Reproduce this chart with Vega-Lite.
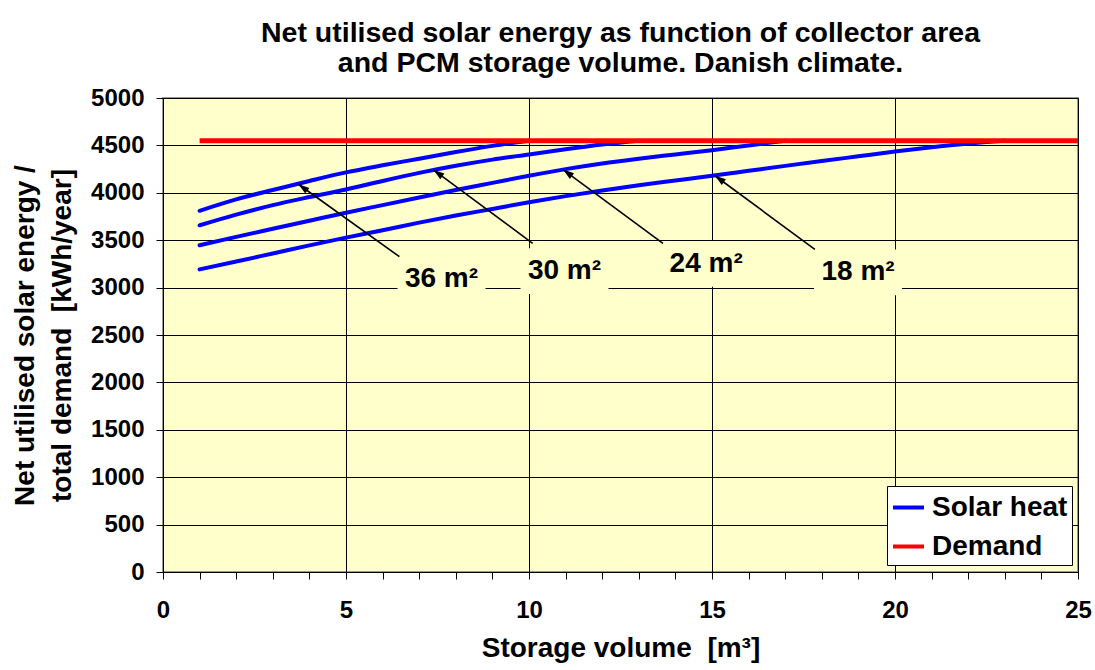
{
  "$schema": "https://vega.github.io/schema/vega-lite/v6.json",
  "width": 915,
  "height": 474,
  "autosize": "none",
  "padding": {"left": 163, "top": 98, "right": 17, "bottom": 98},
  "background": "#FFFFFF",
  "title": {
    "text": ["Net utilised solar energy as function of collector area", "and PCM storage volume. Danish climate."],
    "font": "Liberation Sans",
    "fontSize": 28.5,
    "fontWeight": "bold",
    "lineHeight": 30,
    "color": "#000000",
    "anchor": "middle",
    "frame": "group",
    "offset": 9
  },
  "config": {
    "view": {"fill": "#FFFFCC", "stroke": "#999999", "strokeWidth": 2},
    "axis": {
      "labelFont": "Liberation Sans",
      "labelFontWeight": "bold",
      "labelFontSize": 24,
      "labelColor": "#000000",
      "titleFont": "Liberation Sans",
      "titleFontWeight": "bold",
      "titleFontSize": 28,
      "titleColor": "#000000",
      "domainColor": "#000000",
      "domainWidth": 1,
      "tickColor": "#000000",
      "tickWidth": 1,
      "tickSize": 7,
      "gridColor": "#000000",
      "gridWidth": 1,
      "labelFlush": false,
      "labelOverlap": false,
      "labelBound": false,
      "format": "d"
    }
  },
  "datasets": {
    "curves": [
      {"area": "36 m²", "series": "Solar heat", "volume": 1, "energy": 3810},
      {"area": "36 m²", "series": "Solar heat", "volume": 2, "energy": 3930},
      {"area": "36 m²", "series": "Solar heat", "volume": 3, "energy": 4030},
      {"area": "36 m²", "series": "Solar heat", "volume": 4, "energy": 4125},
      {"area": "36 m²", "series": "Solar heat", "volume": 5, "energy": 4215},
      {"area": "36 m²", "series": "Solar heat", "volume": 6, "energy": 4290},
      {"area": "36 m²", "series": "Solar heat", "volume": 7, "energy": 4360},
      {"area": "36 m²", "series": "Solar heat", "volume": 8, "energy": 4430},
      {"area": "36 m²", "series": "Solar heat", "volume": 9, "energy": 4495},
      {"area": "36 m²", "series": "Solar heat", "volume": 10, "energy": 4550},
      {"area": "30 m²", "series": "Solar heat", "volume": 1, "energy": 3657},
      {"area": "30 m²", "series": "Solar heat", "volume": 2, "energy": 3770},
      {"area": "30 m²", "series": "Solar heat", "volume": 3, "energy": 3870},
      {"area": "30 m²", "series": "Solar heat", "volume": 4, "energy": 3955},
      {"area": "30 m²", "series": "Solar heat", "volume": 5, "energy": 4035},
      {"area": "30 m²", "series": "Solar heat", "volume": 6, "energy": 4125},
      {"area": "30 m²", "series": "Solar heat", "volume": 7, "energy": 4210},
      {"area": "30 m²", "series": "Solar heat", "volume": 8, "energy": 4285},
      {"area": "30 m²", "series": "Solar heat", "volume": 9, "energy": 4350},
      {"area": "30 m²", "series": "Solar heat", "volume": 10, "energy": 4405},
      {"area": "30 m²", "series": "Solar heat", "volume": 11, "energy": 4460},
      {"area": "30 m²", "series": "Solar heat", "volume": 12, "energy": 4510},
      {"area": "30 m²", "series": "Solar heat", "volume": 13, "energy": 4550},
      {"area": "24 m²", "series": "Solar heat", "volume": 1, "energy": 3446},
      {"area": "24 m²", "series": "Solar heat", "volume": 2, "energy": 3535},
      {"area": "24 m²", "series": "Solar heat", "volume": 3, "energy": 3620},
      {"area": "24 m²", "series": "Solar heat", "volume": 4, "energy": 3705},
      {"area": "24 m²", "series": "Solar heat", "volume": 5, "energy": 3790},
      {"area": "24 m²", "series": "Solar heat", "volume": 6, "energy": 3870},
      {"area": "24 m²", "series": "Solar heat", "volume": 7, "energy": 3950},
      {"area": "24 m²", "series": "Solar heat", "volume": 8, "energy": 4030},
      {"area": "24 m²", "series": "Solar heat", "volume": 9, "energy": 4105},
      {"area": "24 m²", "series": "Solar heat", "volume": 10, "energy": 4180},
      {"area": "24 m²", "series": "Solar heat", "volume": 11, "energy": 4250},
      {"area": "24 m²", "series": "Solar heat", "volume": 12, "energy": 4310},
      {"area": "24 m²", "series": "Solar heat", "volume": 13, "energy": 4360},
      {"area": "24 m²", "series": "Solar heat", "volume": 14, "energy": 4405},
      {"area": "24 m²", "series": "Solar heat", "volume": 15, "energy": 4450},
      {"area": "24 m²", "series": "Solar heat", "volume": 16, "energy": 4500},
      {"area": "24 m²", "series": "Solar heat", "volume": 17, "energy": 4550},
      {"area": "18 m²", "series": "Solar heat", "volume": 1, "energy": 3192},
      {"area": "18 m²", "series": "Solar heat", "volume": 2, "energy": 3275},
      {"area": "18 m²", "series": "Solar heat", "volume": 3, "energy": 3360},
      {"area": "18 m²", "series": "Solar heat", "volume": 4, "energy": 3445},
      {"area": "18 m²", "series": "Solar heat", "volume": 5, "energy": 3527},
      {"area": "18 m²", "series": "Solar heat", "volume": 6, "energy": 3605},
      {"area": "18 m²", "series": "Solar heat", "volume": 7, "energy": 3685},
      {"area": "18 m²", "series": "Solar heat", "volume": 8, "energy": 3760},
      {"area": "18 m²", "series": "Solar heat", "volume": 9, "energy": 3830},
      {"area": "18 m²", "series": "Solar heat", "volume": 10, "energy": 3900},
      {"area": "18 m²", "series": "Solar heat", "volume": 11, "energy": 3965},
      {"area": "18 m²", "series": "Solar heat", "volume": 12, "energy": 4025},
      {"area": "18 m²", "series": "Solar heat", "volume": 13, "energy": 4080},
      {"area": "18 m²", "series": "Solar heat", "volume": 14, "energy": 4130},
      {"area": "18 m²", "series": "Solar heat", "volume": 15, "energy": 4180},
      {"area": "18 m²", "series": "Solar heat", "volume": 16, "energy": 4232},
      {"area": "18 m²", "series": "Solar heat", "volume": 17, "energy": 4284},
      {"area": "18 m²", "series": "Solar heat", "volume": 18, "energy": 4335},
      {"area": "18 m²", "series": "Solar heat", "volume": 19, "energy": 4385},
      {"area": "18 m²", "series": "Solar heat", "volume": 20, "energy": 4435},
      {"area": "18 m²", "series": "Solar heat", "volume": 21, "energy": 4480},
      {"area": "18 m²", "series": "Solar heat", "volume": 22, "energy": 4520},
      {"area": "18 m²", "series": "Solar heat", "volume": 23, "energy": 4550}
    ],
    "demand": [
      {"series": "Demand", "volume": 1, "energy": 4550},
      {"series": "Demand", "volume": 25, "energy": 4550}
    ],
    "callouts": [
      {"area": "36 m²", "tipX": 3.70, "tipY": 4090, "tailX": 6.46, "tailY": 3326, "labelX": 7.61, "labelY": 3090},
      {"area": "30 m²", "tipX": 7.39, "tipY": 4241, "tailX": 10.10, "tailY": 3467, "labelX": 10.97, "labelY": 3175},
      {"area": "24 m²", "tipX": 10.93, "tipY": 4245, "tailX": 13.66, "tailY": 3467, "labelX": 14.84, "labelY": 3250},
      {"area": "18 m²", "tipX": 15.08, "tipY": 4180, "tailX": 17.81, "tailY": 3404, "labelX": 18.99, "labelY": 3160}
    ]
  },
  "layer": [
    {
      "data": {"name": "callouts"},
      "mark": {
        "type": "point",
        "shape": "M-1,-0.52H1V0.52H-1Z",
        "size": 7744,
        "filled": true,
        "fill": "#FFFFCC",
        "opacity": 1,
        "strokeWidth": 0
      },
      "encoding": {
        "x": {
          "field": "labelX",
          "type": "quantitative",
          "scale": {"domain": [0, 25], "nice": false, "zero": false},
          "axis": {
            "title": "Storage volume\u00a0 [m³]",
            "values": [0, 1, 2, 3, 4, 5, 6, 7, 8, 9, 10, 11, 12, 13, 14, 15, 16, 17, 18, 19, 20, 21, 22, 23, 24, 25],
            "labelExpr": "datum.value % 5 === 0 ? datum.label : ''",
            "gridOpacity": {"condition": {"test": "datum.value % 5 === 0", "value": 1}, "value": 0},
            "labelBaseline": "alphabetic",
            "labelPadding": 38,
            "titleBaseline": "alphabetic",
            "titleY": 84
          }
        },
        "y": {
          "field": "labelY",
          "type": "quantitative",
          "scale": {"domain": [0, 5000], "nice": false},
          "axis": {
            "title": ["Net utilised solar energy /", "total demand\u00a0 [kWh/year]"],
            "values": [0, 500, 1000, 1500, 2000, 2500, 3000, 3500, 4000, 4500, 5000],
            "labelPadding": 12,
            "titleAngle": -90,
            "titleAlign": "center",
            "titleBaseline": "alphabetic",
            "titleLineHeight": 37,
            "titleX": -130,
            "titleY": 237
          }
        }
      }
    },
    {
      "data": {"name": "curves"},
      "mark": {"type": "line", "strokeWidth": 4, "strokeCap": "round", "interpolate": "monotone"},
      "encoding": {
        "x": {
          "field": "volume",
          "type": "quantitative",
          "axis": {
            "title": "Storage volume\u00a0 [m³]",
            "values": [0, 1, 2, 3, 4, 5, 6, 7, 8, 9, 10, 11, 12, 13, 14, 15, 16, 17, 18, 19, 20, 21, 22, 23, 24, 25],
            "labelExpr": "datum.value % 5 === 0 ? datum.label : ''",
            "gridOpacity": {"condition": {"test": "datum.value % 5 === 0", "value": 1}, "value": 0},
            "labelBaseline": "alphabetic",
            "labelPadding": 38,
            "titleBaseline": "alphabetic",
            "titleY": 84
          }
        },
        "y": {
          "field": "energy",
          "type": "quantitative",
          "axis": {
            "title": ["Net utilised solar energy /", "total demand\u00a0 [kWh/year]"],
            "values": [0, 500, 1000, 1500, 2000, 2500, 3000, 3500, 4000, 4500, 5000],
            "labelPadding": 12,
            "titleAngle": -90,
            "titleAlign": "center",
            "titleBaseline": "alphabetic",
            "titleLineHeight": 37,
            "titleX": -130,
            "titleY": 237
          }
        },
        "detail": {"field": "area"},
        "color": {
          "field": "series",
          "type": "nominal",
          "scale": {"domain": ["Solar heat", "Demand"], "range": ["#0000FF", "#FF0000"]},
          "legend": {
            "title": null,
            "orient": "none",
            "legendX": 724,
            "legendY": 388,
            "direction": "vertical",
            "fillColor": "#FFFFFF",
            "strokeColor": "#000000",
            "padding": 4,
            "cornerRadius": 0,
            "symbolType": "stroke",
            "symbolSize": 961,
            "symbolStrokeWidth": 4,
            "labelFont": "Liberation Sans",
            "labelFontSize": 28,
            "labelFontWeight": "bold",
            "labelColor": "#000000",
            "labelOffset": 6,
            "rowPadding": 7
          }
        }
      }
    },
    {
      "data": {"name": "demand"},
      "mark": {"type": "line", "strokeWidth": 5, "strokeCap": "butt"},
      "encoding": {
        "x": {
          "field": "volume",
          "type": "quantitative",
          "axis": {
            "title": "Storage volume\u00a0 [m³]",
            "values": [0, 1, 2, 3, 4, 5, 6, 7, 8, 9, 10, 11, 12, 13, 14, 15, 16, 17, 18, 19, 20, 21, 22, 23, 24, 25],
            "labelExpr": "datum.value % 5 === 0 ? datum.label : ''",
            "gridOpacity": {"condition": {"test": "datum.value % 5 === 0", "value": 1}, "value": 0},
            "labelBaseline": "alphabetic",
            "labelPadding": 38,
            "titleBaseline": "alphabetic",
            "titleY": 84
          }
        },
        "y": {
          "field": "energy",
          "type": "quantitative",
          "axis": {
            "title": ["Net utilised solar energy /", "total demand\u00a0 [kWh/year]"],
            "values": [0, 500, 1000, 1500, 2000, 2500, 3000, 3500, 4000, 4500, 5000],
            "labelPadding": 12,
            "titleAngle": -90,
            "titleAlign": "center",
            "titleBaseline": "alphabetic",
            "titleLineHeight": 37,
            "titleX": -130,
            "titleY": 237
          }
        },
        "color": {"field": "series", "type": "nominal"}
      }
    },
    {
      "data": {"name": "callouts"},
      "mark": {"type": "rule", "color": "#000000", "strokeWidth": 1.6},
      "encoding": {
        "x": {
          "field": "tailX",
          "type": "quantitative",
          "axis": {
            "title": "Storage volume\u00a0 [m³]",
            "values": [0, 1, 2, 3, 4, 5, 6, 7, 8, 9, 10, 11, 12, 13, 14, 15, 16, 17, 18, 19, 20, 21, 22, 23, 24, 25],
            "labelExpr": "datum.value % 5 === 0 ? datum.label : ''",
            "gridOpacity": {"condition": {"test": "datum.value % 5 === 0", "value": 1}, "value": 0},
            "labelBaseline": "alphabetic",
            "labelPadding": 38,
            "titleBaseline": "alphabetic",
            "titleY": 84
          }
        },
        "y": {
          "field": "tailY",
          "type": "quantitative",
          "axis": {
            "title": ["Net utilised solar energy /", "total demand\u00a0 [kWh/year]"],
            "values": [0, 500, 1000, 1500, 2000, 2500, 3000, 3500, 4000, 4500, 5000],
            "labelPadding": 12,
            "titleAngle": -90,
            "titleAlign": "center",
            "titleBaseline": "alphabetic",
            "titleLineHeight": 37,
            "titleX": -130,
            "titleY": 237
          }
        },
        "x2": {"field": "tipX"},
        "y2": {"field": "tipY"}
      }
    },
    {
      "data": {"name": "callouts"},
      "mark": {
        "type": "point",
        "shape": "M0,0L-0.32,1L0.32,1Z",
        "size": 484,
        "angle": 306,
        "filled": true,
        "fill": "#000000",
        "opacity": 1,
        "strokeWidth": 0
      },
      "encoding": {
        "x": {
          "field": "tipX",
          "type": "quantitative",
          "axis": {
            "title": "Storage volume\u00a0 [m³]",
            "values": [0, 1, 2, 3, 4, 5, 6, 7, 8, 9, 10, 11, 12, 13, 14, 15, 16, 17, 18, 19, 20, 21, 22, 23, 24, 25],
            "labelExpr": "datum.value % 5 === 0 ? datum.label : ''",
            "gridOpacity": {"condition": {"test": "datum.value % 5 === 0", "value": 1}, "value": 0},
            "labelBaseline": "alphabetic",
            "labelPadding": 38,
            "titleBaseline": "alphabetic",
            "titleY": 84
          }
        },
        "y": {
          "field": "tipY",
          "type": "quantitative",
          "axis": {
            "title": ["Net utilised solar energy /", "total demand\u00a0 [kWh/year]"],
            "values": [0, 500, 1000, 1500, 2000, 2500, 3000, 3500, 4000, 4500, 5000],
            "labelPadding": 12,
            "titleAngle": -90,
            "titleAlign": "center",
            "titleBaseline": "alphabetic",
            "titleLineHeight": 37,
            "titleX": -130,
            "titleY": 237
          }
        }
      }
    },
    {
      "data": {"name": "callouts"},
      "mark": {
        "type": "text",
        "font": "Liberation Sans",
        "fontSize": 28,
        "fontWeight": "bold",
        "color": "#000000",
        "align": "center",
        "baseline": "middle"
      },
      "encoding": {
        "x": {
          "field": "labelX",
          "type": "quantitative",
          "axis": {
            "title": "Storage volume\u00a0 [m³]",
            "values": [0, 1, 2, 3, 4, 5, 6, 7, 8, 9, 10, 11, 12, 13, 14, 15, 16, 17, 18, 19, 20, 21, 22, 23, 24, 25],
            "labelExpr": "datum.value % 5 === 0 ? datum.label : ''",
            "gridOpacity": {"condition": {"test": "datum.value % 5 === 0", "value": 1}, "value": 0},
            "labelBaseline": "alphabetic",
            "labelPadding": 38,
            "titleBaseline": "alphabetic",
            "titleY": 84
          }
        },
        "y": {
          "field": "labelY",
          "type": "quantitative",
          "axis": {
            "title": ["Net utilised solar energy /", "total demand\u00a0 [kWh/year]"],
            "values": [0, 500, 1000, 1500, 2000, 2500, 3000, 3500, 4000, 4500, 5000],
            "labelPadding": 12,
            "titleAngle": -90,
            "titleAlign": "center",
            "titleBaseline": "alphabetic",
            "titleLineHeight": 37,
            "titleX": -130,
            "titleY": 237
          }
        },
        "text": {"field": "area"}
      }
    }
  ]
}
